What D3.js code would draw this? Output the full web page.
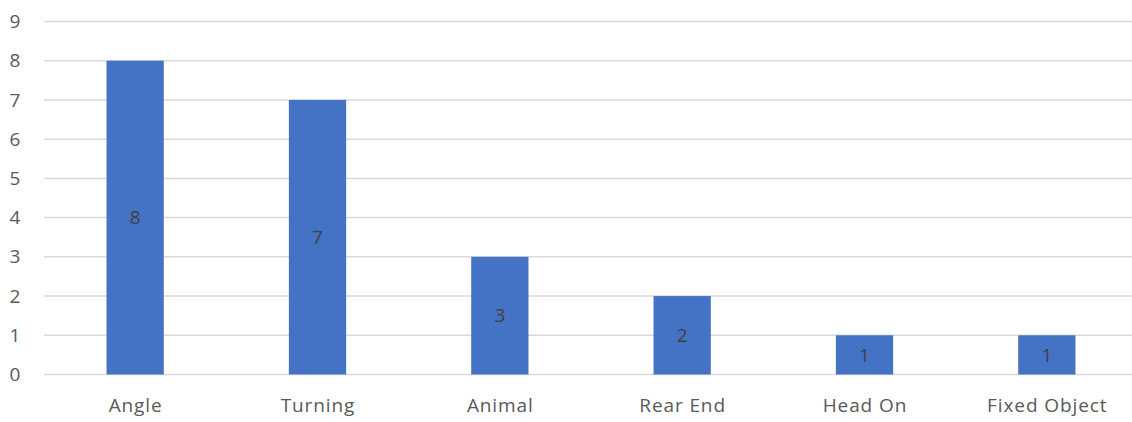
<!DOCTYPE html>
<html>
<head>
<meta charset="utf-8">
<script src="https://cdn.jsdelivr.net/npm/d3@7"></script>
<style>
  html, body { margin: 0; padding: 0; background: #fff; }
  svg { display: block; }
  text { font-family: "Open Sans", "Noto Sans", sans-serif; fill: #595959; }
</style>
</head>
<body>
<svg id="chart" width="1132" height="422"></svg>
<script>
// Crash counts by collision type
const categories = ["Angle", "Turning", "Animal", "Rear End", "Head On", "Fixed Object"];
const counts = [8, 7, 3, 2, 1, 1];
const yTicks = [0, 1, 2, 3, 4, 5, 6, 7, 8, 9];

const svg = d3.select("#chart");
const plotLeft = 44, plotRight = 1138, plotTop = 21.5, plotBottom = 374.5;
const fontSize = 19, spacing = "0.9px";

const x = d3.scaleBand()
  .domain(categories)
  .range([plotLeft, plotRight])
  .paddingInner(0.686)
  .paddingOuter(0.343);

const y = d3.scaleLinear().domain([0, 9]).range([plotBottom, plotTop]);

// horizontal gridlines
svg.append("g")
  .selectAll("line")
  .data(yTicks)
  .join("line")
  .attr("x1", plotLeft)
  .attr("x2", 1132)
  .attr("y1", d => y(d))
  .attr("y2", d => y(d))
  .attr("stroke", "#d9d9d9")
  .attr("stroke-width", 1.5);

// y axis labels
svg.append("g")
  .selectAll("text")
  .data(yTicks)
  .join("text")
  .attr("x", 15)
  .attr("y", d => y(d))
  .attr("dy", "0.35em")
  .attr("text-anchor", "middle")
  .attr("font-size", fontSize)
  .text(d => d);

// bars
svg.append("g")
  .selectAll("rect")
  .data(categories)
  .join("rect")
  .attr("x", d => x(d))
  .attr("width", x.bandwidth())
  .attr("y", (d, i) => y(counts[i]))
  .attr("height", (d, i) => y(0) - y(counts[i]))
  .attr("fill", "#4472c4");

// value labels centred inside the bars
svg.append("g")
  .selectAll("text")
  .data(categories)
  .join("text")
  .attr("x", d => x(d) + x.bandwidth() / 2)
  .attr("y", (d, i) => y(counts[i] / 2))
  .attr("dy", "0.35em")
  .attr("text-anchor", "middle")
  .attr("font-size", fontSize)
  .style("fill", "#404040")
  .text((d, i) => counts[i]);

// category labels
svg.append("g")
  .selectAll("text")
  .data(categories)
  .join("text")
  .attr("x", d => x(d) + x.bandwidth() / 2 + 0.45)
  .attr("y", 412)
  .attr("text-anchor", "middle")
  .attr("font-size", fontSize)
  .style("letter-spacing", spacing)
  .text(d => d);
</script>
</body>
</html>
